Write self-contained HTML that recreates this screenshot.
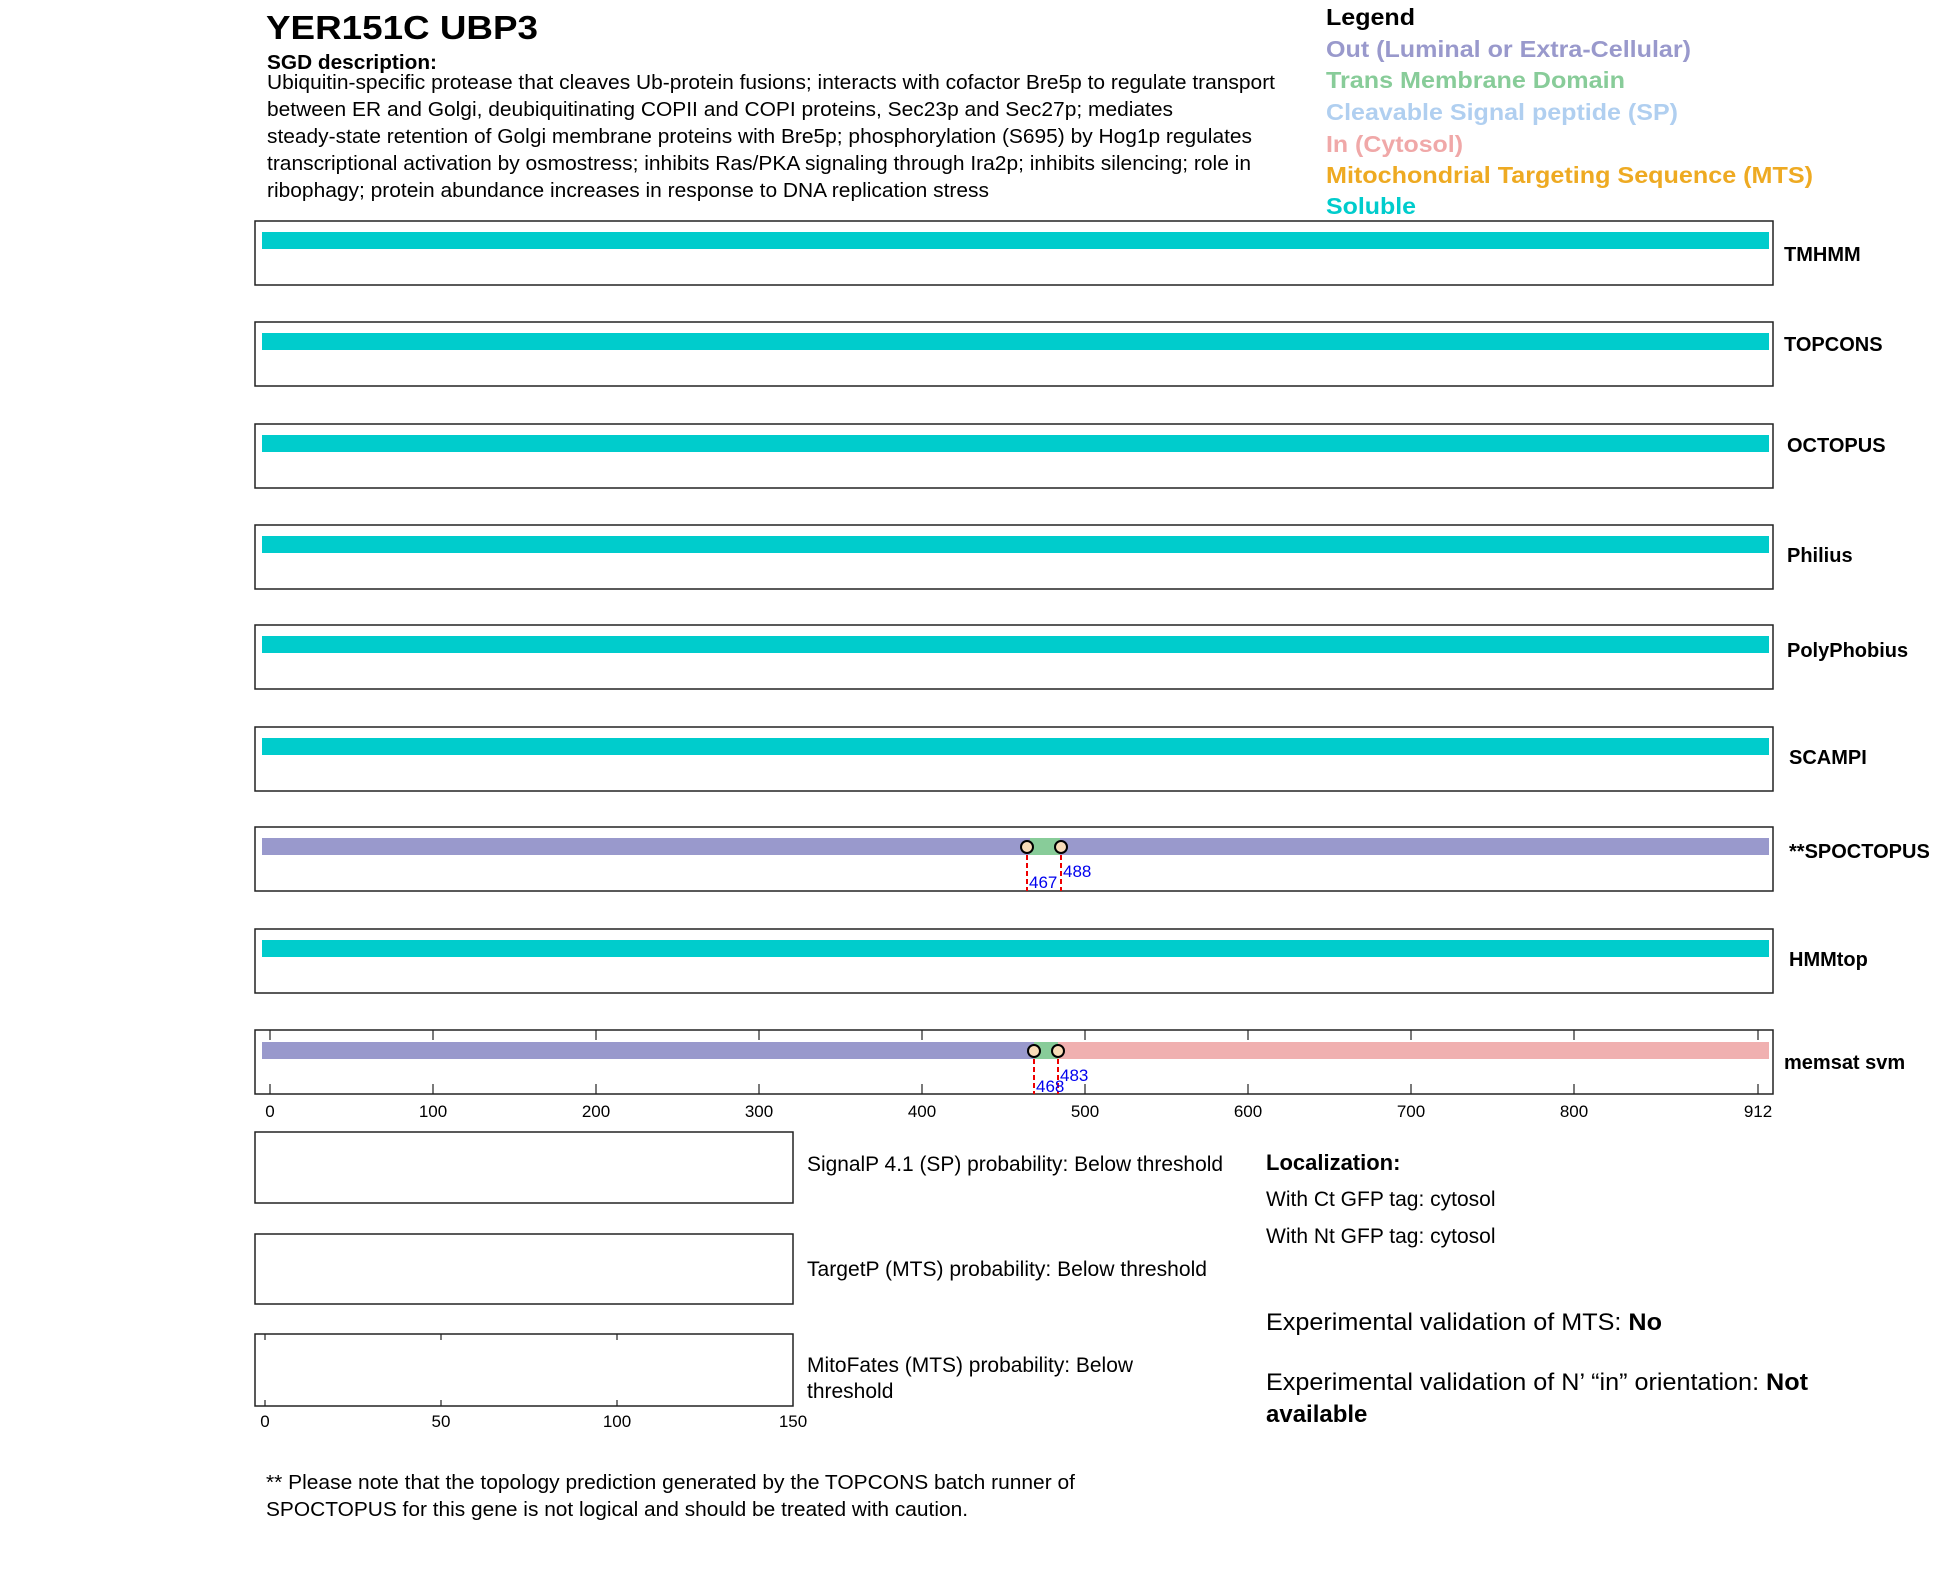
<!DOCTYPE html>
<html><head><meta charset="utf-8"><style>
html,body{margin:0;padding:0;background:#fff;}
svg{display:block;font-family:"Liberation Sans",Arial,sans-serif;}
</style></head><body>
<svg width="1950" height="1573" viewBox="0 0 1950 1573" xmlns="http://www.w3.org/2000/svg">
<rect width="1950" height="1573" fill="#fff"/>
<text x="266" y="39" font-size="33" font-weight="bold" textLength="272" lengthAdjust="spacingAndGlyphs">YER151C  UBP3</text>
<text x="267" y="69" font-size="20" font-weight="bold" textLength="170" lengthAdjust="spacingAndGlyphs">SGD description:</text>
<g font-size="20">
<text x="267" y="89" textLength="1008" lengthAdjust="spacingAndGlyphs">Ubiquitin-specific protease that cleaves Ub-protein fusions; interacts with cofactor Bre5p to regulate transport</text>
<text x="267" y="116" textLength="906" lengthAdjust="spacingAndGlyphs">between ER and Golgi, deubiquitinating COPII and COPI proteins, Sec23p and Sec27p; mediates</text>
<text x="267" y="143" textLength="985" lengthAdjust="spacingAndGlyphs">steady-state retention of Golgi membrane proteins with Bre5p; phosphorylation (S695) by Hog1p regulates</text>
<text x="267" y="170" textLength="984" lengthAdjust="spacingAndGlyphs">transcriptional activation by osmostress; inhibits Ras/PKA signaling through Ira2p; inhibits silencing; role in</text>
<text x="267" y="197" textLength="722" lengthAdjust="spacingAndGlyphs">ribophagy; protein abundance increases in response to DNA replication stress</text>
</g>
<g font-size="23" font-weight="bold">
<text x="1326" y="25" fill="#000" textLength="89" lengthAdjust="spacingAndGlyphs">Legend</text>
<text x="1326" y="57" fill="#9999cc" textLength="365" lengthAdjust="spacingAndGlyphs">Out (Luminal or Extra-Cellular)</text>
<text x="1326" y="88" fill="#88cc99" textLength="299" lengthAdjust="spacingAndGlyphs">Trans Membrane Domain</text>
<text x="1326" y="120" fill="#b0cff0" textLength="352" lengthAdjust="spacingAndGlyphs">Cleavable Signal peptide (SP)</text>
<text x="1326" y="152" fill="#f0a8a8" textLength="137" lengthAdjust="spacingAndGlyphs">In (Cytosol)</text>
<text x="1326" y="183" fill="#eeaa22" textLength="487" lengthAdjust="spacingAndGlyphs">Mitochondrial Targeting Sequence (MTS)</text>
<text x="1326" y="214" fill="#00cccc" textLength="90" lengthAdjust="spacingAndGlyphs">Soluble</text>
</g>
<g fill="none" stroke="#222" stroke-width="1.5">
<rect x="255" y="221" width="1518" height="64"/>
<rect x="255" y="322" width="1518" height="64"/>
<rect x="255" y="424" width="1518" height="64"/>
<rect x="255" y="525" width="1518" height="64"/>
<rect x="255" y="625" width="1518" height="64"/>
<rect x="255" y="727" width="1518" height="64"/>
<rect x="255" y="827" width="1518" height="64"/>
<rect x="255" y="929" width="1518" height="64"/>
<rect x="255" y="1030" width="1518" height="64"/>
</g>
<g fill="#00cccc">
<rect x="262" y="232" width="1507" height="17"/>
<rect x="262" y="333" width="1507" height="17"/>
<rect x="262" y="435" width="1507" height="17"/>
<rect x="262" y="536" width="1507" height="17"/>
<rect x="262" y="636" width="1507" height="17"/>
<rect x="262" y="738" width="1507" height="17"/>
<rect x="262" y="940" width="1507" height="17"/>
</g>
<rect x="262" y="838" width="1507" height="17" fill="#9999cc"/>
<rect x="1030" y="838" width="30" height="17" fill="#88cc99"/>
<g stroke="#ee0000" stroke-width="2" stroke-dasharray="5,3">
<line x1="1027" y1="847" x2="1027" y2="891"/>
<line x1="1061" y1="847" x2="1061" y2="891"/>
</g>
<g fill="#f8dcb8" stroke="#000" stroke-width="2">
<circle cx="1027" cy="847" r="6"/><circle cx="1061" cy="847" r="6"/>
</g>
<text x="1029" y="888" font-size="17" fill="#0000ee">467</text>
<text x="1063" y="877" font-size="17" fill="#0000ee">488</text>
<rect x="262" y="1042" width="772" height="17" fill="#9999cc"/>
<rect x="1034" y="1042" width="24" height="17" fill="#88cc99"/>
<rect x="1058" y="1042" width="711" height="17" fill="#f0b0b0"/>
<g stroke="#222" stroke-width="1.2">
<line x1="270" y1="1030" x2="270" y2="1040"/><line x1="270" y1="1084" x2="270" y2="1094"/>
<line x1="433" y1="1030" x2="433" y2="1040"/><line x1="433" y1="1084" x2="433" y2="1094"/>
<line x1="596" y1="1030" x2="596" y2="1040"/><line x1="596" y1="1084" x2="596" y2="1094"/>
<line x1="759" y1="1030" x2="759" y2="1040"/><line x1="759" y1="1084" x2="759" y2="1094"/>
<line x1="922" y1="1030" x2="922" y2="1040"/><line x1="922" y1="1084" x2="922" y2="1094"/>
<line x1="1085" y1="1030" x2="1085" y2="1040"/><line x1="1085" y1="1084" x2="1085" y2="1094"/>
<line x1="1248" y1="1030" x2="1248" y2="1040"/><line x1="1248" y1="1084" x2="1248" y2="1094"/>
<line x1="1411" y1="1030" x2="1411" y2="1040"/><line x1="1411" y1="1084" x2="1411" y2="1094"/>
<line x1="1574" y1="1030" x2="1574" y2="1040"/><line x1="1574" y1="1084" x2="1574" y2="1094"/>
<line x1="1758" y1="1030" x2="1758" y2="1040"/><line x1="1758" y1="1084" x2="1758" y2="1094"/>
</g>
<g stroke="#ee0000" stroke-width="2" stroke-dasharray="5,3">
<line x1="1034" y1="1051" x2="1034" y2="1094"/>
<line x1="1058" y1="1051" x2="1058" y2="1094"/>
</g>
<g fill="#f8dcb8" stroke="#000" stroke-width="2">
<circle cx="1034" cy="1051" r="6"/><circle cx="1058" cy="1051" r="6"/>
</g>
<text x="1036" y="1092" font-size="17" fill="#0000ee">468</text>
<text x="1060" y="1081" font-size="17" fill="#0000ee">483</text>
<g font-size="17" text-anchor="middle">
<text x="270" y="1117">0</text><text x="433" y="1117">100</text><text x="596" y="1117">200</text>
<text x="759" y="1117">300</text><text x="922" y="1117">400</text><text x="1085" y="1117">500</text>
<text x="1248" y="1117">600</text><text x="1411" y="1117">700</text><text x="1574" y="1117">800</text>
<text x="1758" y="1117">912</text>
</g>
<g font-size="20" font-weight="bold">
<text x="1784" y="261">TMHMM</text>
<text x="1784" y="351">TOPCONS</text>
<text x="1787" y="452">OCTOPUS</text>
<text x="1787" y="562">Philius</text>
<text x="1787" y="657">PolyPhobius</text>
<text x="1789" y="764">SCAMPI</text>
<text x="1789" y="858">**SPOCTOPUS</text>
<text x="1789" y="966">HMMtop</text>
<text x="1784" y="1069">memsat svm</text>
</g>
<g fill="none" stroke="#222" stroke-width="1.5">
<rect x="255" y="1132" width="538" height="71"/>
<rect x="255" y="1234" width="538" height="70"/>
<rect x="255" y="1334" width="538" height="72"/>
</g>
<g stroke="#222" stroke-width="1.2">
<line x1="265" y1="1334" x2="265" y2="1340"/><line x1="265" y1="1400" x2="265" y2="1406"/>
<line x1="441" y1="1334" x2="441" y2="1340"/><line x1="441" y1="1400" x2="441" y2="1406"/>
<line x1="617" y1="1334" x2="617" y2="1340"/><line x1="617" y1="1400" x2="617" y2="1406"/>
</g>
<g font-size="17" text-anchor="middle">
<text x="265" y="1427">0</text><text x="441" y="1427">50</text><text x="617" y="1427">100</text><text x="793" y="1427">150</text>
</g>
<g font-size="21">
<text x="807" y="1171" textLength="416" lengthAdjust="spacingAndGlyphs">SignalP 4.1 (SP) probability: Below threshold</text>
<text x="807" y="1276" textLength="400" lengthAdjust="spacingAndGlyphs">TargetP (MTS) probability: Below threshold</text>
<text x="807" y="1372" textLength="326" lengthAdjust="spacingAndGlyphs">MitoFates (MTS) probability: Below</text>
<text x="807" y="1398">threshold</text>
</g>
<text x="1266" y="1170" font-size="22" font-weight="bold">Localization:</text>
<text x="1266" y="1206" font-size="21">With Ct GFP tag: cytosol</text>
<text x="1266" y="1243" font-size="21">With Nt GFP tag: cytosol</text>
<text x="1266" y="1330" font-size="24" textLength="396" lengthAdjust="spacingAndGlyphs">Experimental validation of MTS: <tspan font-weight="bold">No</tspan></text>
<text x="1266" y="1390" font-size="24" textLength="542" lengthAdjust="spacingAndGlyphs">Experimental validation of N’ “in” orientation: <tspan font-weight="bold">Not</tspan></text>
<text x="1266" y="1422" font-size="24" font-weight="bold">available</text>
<g font-size="20">
<text x="266" y="1489" textLength="809" lengthAdjust="spacingAndGlyphs">** Please note that the topology prediction generated by the TOPCONS batch runner of</text>
<text x="266" y="1516" textLength="702" lengthAdjust="spacingAndGlyphs">SPOCTOPUS for this gene is not logical and should be treated with caution.</text>
</g>
</svg>
</body></html>
